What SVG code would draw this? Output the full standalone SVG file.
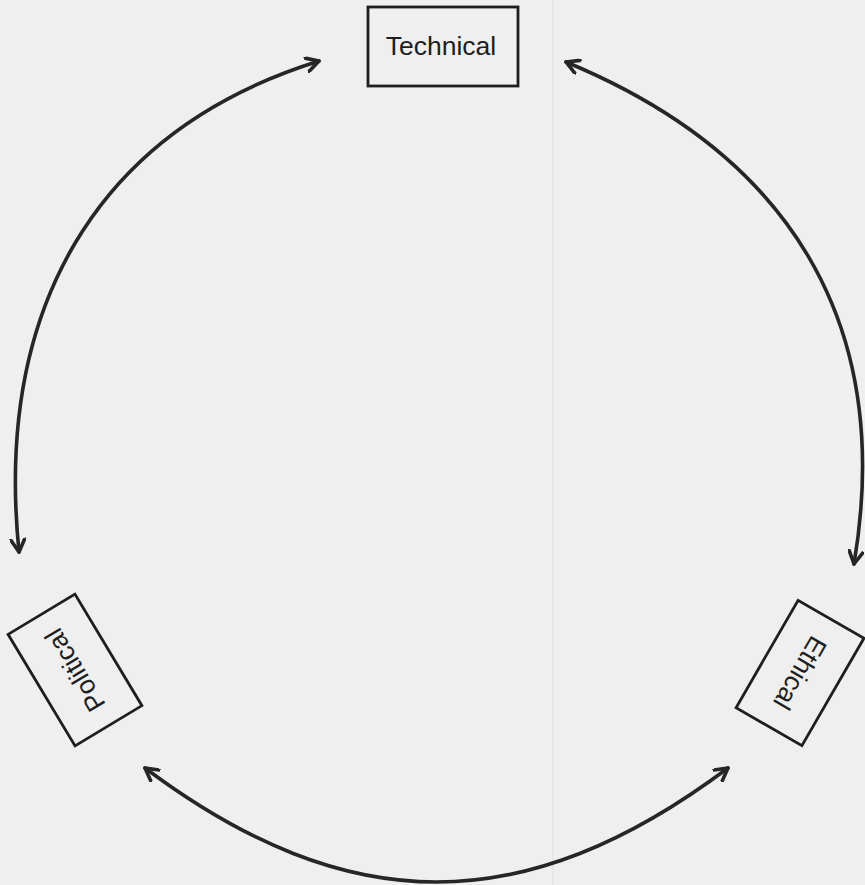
<svg xmlns="http://www.w3.org/2000/svg" width="865" height="885" viewBox="0 0 865 885">
<style>
.box{fill:none;stroke:#1e1e1e;stroke-width:2.8}
.lbl{font-family:"Liberation Sans",Arial,sans-serif;font-size:26.5px;fill:#1e1e1e;text-anchor:middle;dominant-baseline:central}
.arc{fill:none;stroke:#262626;stroke-width:3.6;stroke-linecap:round}
</style>
<defs>
<marker id="ah" viewBox="0 0 12 12" refX="10" refY="6" markerWidth="4.6" markerHeight="4.6" orient="auto-start-reverse" markerUnits="strokeWidth">
<path d="M1,1 L10,6 L1,11" fill="none" stroke="#262626" stroke-width="2.6" stroke-linecap="round" stroke-linejoin="round"/>
</marker>
</defs>
<rect width="865" height="885" fill="#efefef"/>
<line x1="553" y1="0" x2="553" y2="885" stroke="#dcdcdc" stroke-width="1"/>
<g id="connectors">
<path class="arc" d="M319,61 C92,132 -5,313 19,552" marker-start="url(#ah)" marker-end="url(#ah)"/>
<path class="arc" d="M566,62 C786,153 895,320 854,564" marker-start="url(#ah)" marker-end="url(#ah)"/>
<path class="arc" d="M145,768 C348,920 525,920 728,768" marker-start="url(#ah)" marker-end="url(#ah)"/>
</g>
<g id="technical">
<rect class="box" x="368" y="7" width="150" height="79"/>
<text class="lbl" x="441" y="46">Technical</text>
</g>
<g id="political" transform="translate(75,670) rotate(-121)">
<rect class="box" x="-65" y="-39" width="130" height="78"/>
<text class="lbl" x="0" y="0">Political</text>
</g>
<g id="ethical" transform="translate(800,673) rotate(120)">
<rect class="box" x="-62" y="-38" width="124" height="76"/>
<text class="lbl" x="0" y="0">Ethical</text>
</g>
</svg>
